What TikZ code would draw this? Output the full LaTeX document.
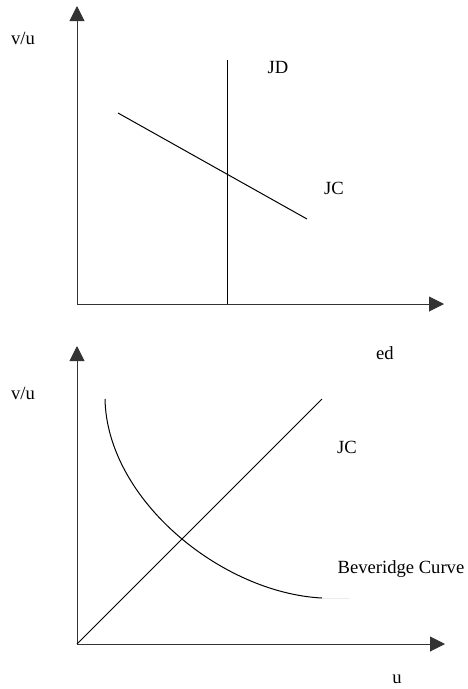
\documentclass[tikz,border=0pt]{standalone}
\usepackage{fontspec}
\setmainfont{Liberation Serif}
\usetikzlibrary{arrows.meta, positioning}

\begin{document}
\begin{tikzpicture}[
  x=1pt, y=-1pt,
  axis/.style={line width=1pt, draw=black!80, -{Triangle[length=15pt, width=15pt]}},
  curve/.style={line width=1pt},
  lbl/.style={inner sep=0pt, font=\fontsize{18.6}{21}\selectfont}
]
  \useasboundingbox (0,0) rectangle (467,689);

  % top panel: JD / JC
  \coordinate (O1) at (77,304);
  \coordinate (Y1) at (77,6);
  \coordinate (X1) at (444,304);
  \draw[axis] (O1) -- (Y1);
  \draw[axis] (O1) -- (X1);
  \coordinate (JDtop) at (227,60);
  \coordinate (JDbot) at (227,304);
  \draw[curve] (JDtop) -- (JDbot);
  \coordinate (JCa) at (118,113);
  \coordinate (JCb) at (307,219);
  \draw[curve] (JCa) -- (JCb);
  \node[lbl] (vu1) at (23,38) {v/u};
  \node[lbl] (JD) at (278,67) {JD};
  \node[lbl] (JC1) at (334,188) {JC};
  \node[lbl] (ed) at (385,353) {ed};

  % bottom panel: JC / Beveridge curve
  \coordinate (O2) at (77,644);
  \coordinate (Y2) at (77,346);
  \coordinate (X2) at (445,644);
  \draw[axis] (O2) -- (Y2);
  \draw[axis] (O2) -- (X2);
  \coordinate (JCtop) at (322,399);
  \draw[curve] (O2) -- (JCtop);
  \coordinate (BCa) at (105,399);
  \coordinate (BCb) at (322,598);
  \coordinate (BCc) at (350,598);
  \draw[curve] (BCa) .. controls (107,500) and (222,593) .. (BCb);
  \draw[gray!15, line width=0.8pt] (BCb) -- (BCc);
  \node[lbl] (vu2) at (23,393) {v/u};
  \node[lbl] (JC2) at (347,447) {JC};
  \node[lbl] (BC) at (401,569) {Beveridge Curve};
  \node[lbl] (u) at (397,679) {u};
\end{tikzpicture}
\end{document}
